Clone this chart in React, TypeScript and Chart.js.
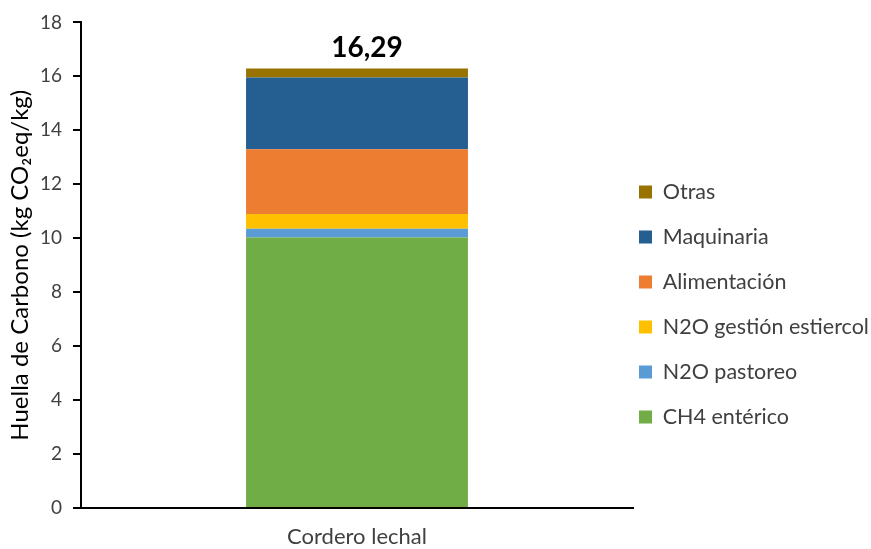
import React, { useEffect, useRef } from 'react';
import { Chart, registerables } from 'chart.js';

Chart.register(...registerables);

// ---- data ----
const categories = ['Cordero lechal'];
const seriesNames = ['CH4 entérico', 'N2O pastoreo', 'N2O gestión estiercol', 'Alimentación', 'Maquinaria', 'Otras'];
const ch4Enterico = [10.03];
const n2oPastoreo = [0.32];
const n2oGestion = [0.55];
const alimentacion = [2.4];
const maquinaria = [2.66];
const otras = [0.33];
const seriesColors = ['#70AD47', '#5B9BD5', '#FFC000', '#ED7D31', '#255E91', '#997300'];
const yMin = 0;
const yMax = 18;
const yStep = 2;
const yTitle = 'Huella de Carbono (kg CO₂eq/kg)';

const FONT = 'Lato, "Open Sans", sans-serif';
const TEXT = '#404040';

export default function App() {
  const ref = useRef<HTMLCanvasElement | null>(null);

  useEffect(() => {
    document.body.style.margin = '0';
    const canvas = ref.current;
    if (!canvas) return;
    const values = [ch4Enterico, n2oPastoreo, n2oGestion, alimentacion, maquinaria, otras];

    const legendFix = {
      id: 'legendFix',
      afterInit(chart: any) {
        const lg = chart.legend;
        if (lg && !lg.__patched) {
          const orig = lg.fit;
          lg.fit = function () {
            orig.call(this);
            this.width = 238;
          };
          lg.__patched = true;
        }
      },
      afterLayout(chart: any) {
        const lg = chart.legend;
        if (!lg) return;
        lg.left = 615.5;
        lg.right = 871;
        lg.top = 157.75;
        lg.bottom = 549;
      },
    };

    const totalLabel = {
      id: 'totalLabel',
      afterDatasetsDraw(chart: any) {
        const last = chart.data.datasets.length - 1;
        const meta = chart.getDatasetMeta(last);
        const ctx = chart.ctx;
        meta.data.forEach((bar: any, i: number) => {
          const total = values.reduce((s, arr) => s + arr[i], 0);
          const txt = total.toFixed(2).replace('.', ',');
          ctx.save();
          ctx.font = `bold 28px ${FONT}`;
          ctx.fillStyle = '#000';
          ctx.textAlign = 'center';
          ctx.textBaseline = 'middle';
          ctx.fillText(txt, bar.x + 10, bar.y - 21);
          ctx.restore();
        });
      },
    };

    const chart = new Chart(canvas, {
      type: 'bar',
      data: {
        labels: categories,
        datasets: seriesNames.map((name, k) => ({
          label: name,
          data: values[k],
          backgroundColor: seriesColors[k],
          borderWidth: 0,
          barPercentage: 0.402,
          categoryPercentage: 1,
        })),
      },
      options: {
        animation: false,
        responsive: false,
        maintainAspectRatio: false,
        layout: { padding: { top: 22, left: 0, right: 0, bottom: 0 } },
        plugins: {
          legend: {
            position: 'right',
            align: 'start',
            reverse: true,
            labels: {
              boxWidth: 13,
              boxHeight: 13,
              padding: 23.5,
              color: TEXT,
              font: { family: FONT, size: 21.5 },
            },
          },
          tooltip: { enabled: false },
        },
        scales: {
          x: {
            stacked: true,
            grid: { display: false },
            border: { display: true, color: '#000', width: 2 },
            ticks: { color: TEXT, font: { family: FONT, size: 22 }, padding: 8 },
            afterFit(scale: any) {
              scale.height = 41;
            },
          },
          y: {
            stacked: true,
            min: yMin,
            max: yMax,
            ticks: { stepSize: yStep, color: TEXT, font: { family: FONT, size: 19 }, padding: 11 },
            grid: {
              display: true,
              drawOnChartArea: false,
              drawTicks: true,
              tickLength: 8,
              color: '#000',
              lineWidth: 2,
              tickColor: '#000',
              tickWidth: 2,
            },
            border: { display: true, color: '#000', width: 2 },
            title: {
              display: true,
              text: yTitle,
              color: '#000',
              font: { family: FONT, size: 24 },
              padding: { top: 6, bottom: 0 },
            },
            afterFit(scale: any) {
              scale.width = 81;
            },
          },
        },
      },
      plugins: [legendFix, totalLabel],
    } as any);

    return () => chart.destroy();
  }, []);

  return (
    <div style={{ width: 871, height: 549 }}>
      <canvas ref={ref} width={871} height={549} style={{ width: 871, height: 549, display: 'block' }} />
    </div>
  );
}
